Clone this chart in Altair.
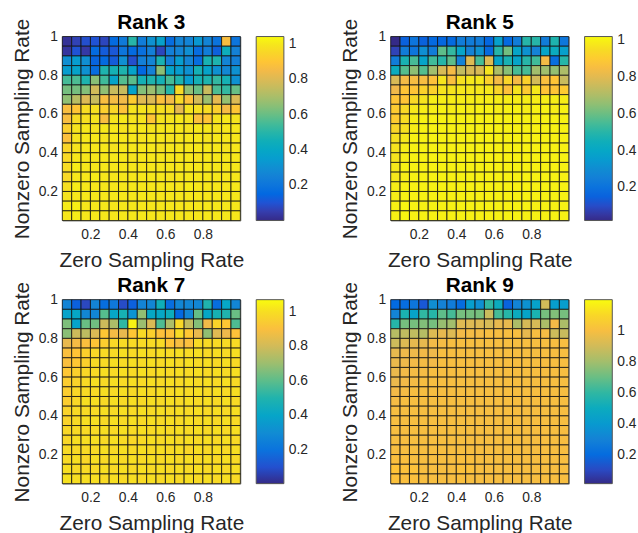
import altair as alt
import pandas as pd

# cell edges (pcolor style grid: 19 x 19 cells between 20 sample rates)
X_EDGES = [0.05, 0.10, 0.15, 0.20, 0.25, 0.30, 0.35, 0.40, 0.45, 0.50,
           0.55, 0.60, 0.65, 0.70, 0.75, 0.80, 0.85, 0.90, 0.95, 1.00]
Y_EDGES = [0.05, 0.10, 0.15, 0.20, 0.25, 0.30, 0.35, 0.40, 0.45, 0.50,
           0.55, 0.60, 0.65, 0.70, 0.75, 0.80, 0.85, 0.90, 0.95, 1.00]

TITLES = ["Rank 3", "Rank 5", "Rank 7", "Rank 9"]

# rows listed from top (nonzero rate 0.95-1.0) to bottom (0.05-0.10)
RANK3 = [
    [0.02, 0.06, 0.09, 0.10, 0.07, 0.16, 0.22, 0.50, 0.23, 0.31, 0.37, 0.17, 0.26, 0.26, 0.33, 0.26, 0.19, 0.87, 0.20],
    [0.03, 0.10, 0.04, 0.16, 0.12, 0.11, 0.20, 0.16, 0.18, 0.24, 0.07, 0.24, 0.26, 0.30, 0.17, 0.23, 0.13, 0.44, 0.25],
    [0.30, 0.35, 0.30, 0.14, 0.16, 0.12, 0.30, 0.09, 0.24, 0.26, 0.47, 0.24, 0.35, 0.26, 0.17, 0.47, 0.48, 0.26, 0.24],
    [0.35, 0.38, 0.31, 0.17, 0.48, 0.46, 0.48, 0.38, 0.15, 0.25, 0.65, 0.38, 0.35, 0.31, 0.46, 0.38, 0.31, 0.27, 0.31],
    [0.55, 0.56, 0.48, 0.65, 0.54, 0.38, 0.57, 0.58, 0.46, 0.48, 0.46, 0.55, 0.48, 0.35, 0.46, 0.48, 0.52, 0.46, 0.31],
    [0.62, 0.62, 0.64, 0.78, 0.66, 0.76, 0.76, 0.38, 0.64, 0.68, 0.62, 0.50, 0.96, 0.66, 0.60, 0.76, 0.56, 0.52, 0.60],
    [0.66, 0.73, 0.80, 0.76, 0.87, 0.86, 0.85, 0.92, 0.81, 0.80, 0.88, 0.85, 0.96, 0.89, 0.78, 0.68, 0.82, 0.67, 0.80],
    [0.87, 0.90, 0.97, 0.98, 0.93, 0.95, 0.89, 0.99, 0.99, 0.98, 0.98, 0.97, 0.82, 0.99, 0.98, 0.97, 0.93, 0.86, 0.90],
    [0.87, 0.97, 0.98, 0.99, 0.87, 0.99, 1.00, 0.99, 0.99, 0.90, 0.99, 0.99, 1.00, 0.99, 0.88, 0.90, 0.99, 1.00, 0.99],
    [0.93, 0.99, 1.00, 0.99, 1.00, 1.00, 0.99, 1.00, 1.00, 0.99, 1.00, 1.00, 1.00, 0.99, 1.00, 1.00, 0.99, 1.00, 1.00],
    [0.88, 0.99, 1.00, 1.00, 0.99, 1.00, 1.00, 1.00, 0.99, 1.00, 1.00, 0.99, 1.00, 1.00, 1.00, 0.99, 1.00, 1.00, 1.00],
    [0.95, 0.99, 1.00, 1.00, 1.00, 0.99, 1.00, 1.00, 1.00, 1.00, 0.99, 1.00, 1.00, 1.00, 1.00, 1.00, 1.00, 0.99, 1.00],
    [0.96, 1.00, 1.00, 1.00, 1.00, 1.00, 1.00, 0.99, 1.00, 1.00, 1.00, 1.00, 1.00, 1.00, 0.99, 1.00, 1.00, 1.00, 1.00],
    [0.97, 1.01, 1.00, 1.00, 1.00, 1.00, 1.00, 1.00, 1.00, 1.00, 1.00, 1.00, 1.00, 1.00, 1.00, 1.00, 1.00, 1.00, 1.00],
    [0.96, 1.00, 1.00, 1.01, 1.00, 1.00, 1.00, 1.00, 1.00, 1.00, 1.00, 0.99, 1.00, 1.00, 1.00, 1.00, 1.00, 1.00, 1.00],
    [0.98, 1.01, 1.00, 1.00, 1.00, 1.00, 1.00, 1.00, 1.00, 1.00, 1.00, 1.00, 1.00, 1.01, 1.00, 1.00, 1.00, 1.00, 1.00],
    [0.99, 1.00, 1.00, 1.00, 1.00, 1.00, 1.00, 1.00, 1.00, 1.00, 1.00, 1.00, 1.00, 1.00, 1.00, 1.00, 1.00, 1.00, 1.00],
    [1.01, 1.02, 1.00, 1.00, 1.00, 1.00, 1.00, 1.00, 1.00, 1.00, 1.00, 1.00, 1.00, 1.00, 1.00, 1.00, 1.00, 1.00, 1.00],
    [1.00, 1.01, 1.00, 1.00, 1.00, 1.00, 1.00, 1.00, 1.00, 1.00, 1.00, 1.00, 1.00, 1.00, 1.00, 1.00, 1.00, 1.00, 1.00],
]

RANK5 = [
    [0.02, 0.15, 0.21, 0.15, 0.17, 0.16, 0.17, 0.24, 0.24, 0.24, 0.16, 0.37, 0.17, 0.24, 0.50, 0.50, 0.24, 0.48, 0.22],
    [0.08, 0.24, 0.21, 0.31, 0.24, 0.58, 0.52, 0.39, 0.26, 0.32, 0.17, 0.50, 0.61, 0.39, 0.32, 0.26, 0.39, 0.43, 0.37],
    [0.24, 0.47, 0.55, 0.39, 0.54, 0.50, 0.58, 0.26, 0.79, 0.55, 0.79, 0.39, 0.47, 0.39, 0.50, 0.54, 0.84, 0.19, 0.50],
    [0.43, 0.57, 0.65, 0.57, 0.68, 0.78, 0.84, 0.74, 0.78, 0.78, 0.97, 0.70, 0.64, 0.55, 0.55, 0.68, 0.68, 0.66, 0.70],
    [0.78, 0.84, 0.85, 0.85, 0.87, 0.97, 0.86, 0.96, 0.98, 0.98, 0.92, 0.84, 0.93, 0.84, 0.92, 0.77, 0.86, 0.88, 0.75],
    [0.83, 0.88, 0.88, 0.92, 0.92, 0.97, 0.97, 0.98, 0.98, 0.98, 0.98, 0.93, 0.87, 0.97, 0.90, 0.98, 0.88, 0.88, 0.90],
    [0.88, 0.88, 0.94, 0.97, 0.99, 0.99, 0.99, 0.99, 0.99, 0.99, 0.99, 0.99, 0.99, 0.99, 0.99, 0.99, 0.99, 0.99, 0.99],
    [0.90, 0.94, 0.98, 0.99, 0.99, 1.00, 0.99, 1.00, 0.99, 1.00, 1.00, 0.99, 1.00, 1.00, 0.99, 1.00, 1.00, 0.99, 1.00],
    [0.90, 0.95, 0.99, 1.00, 1.00, 1.00, 1.00, 1.00, 1.00, 1.00, 1.00, 1.00, 1.00, 1.00, 1.00, 1.00, 1.00, 1.00, 1.00],
    [0.93, 0.96, 0.99, 1.00, 1.00, 1.00, 1.00, 1.00, 1.00, 1.00, 1.00, 1.00, 1.00, 1.00, 1.00, 1.00, 1.00, 1.00, 1.00],
    [0.96, 0.98, 1.00, 1.00, 1.00, 1.00, 1.00, 1.00, 1.00, 1.00, 1.00, 1.00, 1.00, 1.00, 1.00, 1.00, 1.00, 1.00, 1.00],
    [0.97, 0.99, 1.00, 1.00, 1.00, 1.00, 1.00, 1.00, 1.00, 1.00, 1.00, 1.00, 1.00, 1.00, 1.00, 1.00, 1.00, 1.00, 1.00],
    [0.97, 0.99, 1.00, 1.00, 1.00, 1.00, 1.00, 1.00, 1.00, 1.00, 1.00, 1.00, 1.00, 1.00, 1.00, 1.00, 1.00, 1.00, 1.00],
    [0.98, 1.00, 1.00, 1.00, 1.00, 1.00, 1.00, 1.00, 1.00, 1.00, 1.00, 1.00, 1.00, 1.00, 1.00, 1.00, 1.00, 1.00, 1.00],
    [0.98, 0.99, 1.00, 1.00, 1.00, 1.00, 1.00, 1.00, 1.00, 1.00, 1.00, 1.00, 1.00, 1.00, 1.00, 1.00, 1.00, 1.00, 1.00],
    [0.99, 1.00, 1.00, 1.00, 1.00, 1.00, 1.00, 1.00, 1.00, 1.00, 1.00, 1.00, 1.00, 1.00, 1.00, 1.00, 1.00, 1.00, 1.00],
    [0.99, 1.00, 1.00, 1.00, 1.00, 1.00, 1.00, 1.00, 1.00, 1.00, 1.00, 1.00, 1.00, 1.00, 1.00, 1.00, 1.00, 1.00, 1.00],
    [1.00, 1.01, 1.00, 1.00, 1.00, 1.00, 1.00, 1.00, 1.00, 1.00, 1.00, 1.00, 1.00, 1.00, 1.00, 1.00, 1.00, 1.00, 1.00],
    [1.00, 1.01, 1.00, 1.00, 1.00, 1.00, 1.00, 1.00, 1.00, 1.00, 1.00, 1.00, 1.00, 1.00, 1.00, 1.00, 1.00, 1.00, 1.00],
]

RANK7 = [
    [0.27, 0.14, 0.08, 0.27, 0.18, 0.22, 0.09, 0.14, 0.27, 0.28, 0.46, 0.18, 0.28, 0.28, 0.28, 0.50, 0.18, 0.41, 0.28],
    [0.39, 0.41, 0.28, 0.28, 0.59, 0.41, 0.48, 0.33, 0.68, 0.41, 0.41, 0.45, 0.16, 0.28, 0.61, 0.41, 0.48, 0.50, 0.62],
    [0.65, 0.39, 0.62, 0.63, 0.79, 0.73, 0.53, 1.05, 0.70, 0.82, 0.58, 0.73, 0.98, 0.77, 0.66, 0.87, 0.97, 0.93, 0.58],
    [0.67, 0.79, 0.76, 0.82, 0.93, 0.88, 0.85, 0.93, 0.99, 0.96, 0.91, 0.91, 0.99, 0.93, 0.85, 0.68, 0.83, 0.86, 0.91],
    [0.85, 0.88, 0.90, 0.92, 0.95, 0.98, 0.99, 0.99, 0.99, 0.99, 0.99, 0.92, 0.89, 0.90, 0.99, 0.99, 0.99, 0.99, 0.99],
    [0.90, 0.92, 0.96, 0.98, 0.99, 0.99, 1.00, 0.99, 1.00, 0.99, 1.00, 0.99, 1.00, 0.99, 1.00, 0.99, 1.00, 0.99, 1.00],
    [0.90, 0.93, 0.96, 0.99, 0.99, 1.00, 0.99, 1.00, 0.99, 1.00, 0.99, 1.00, 0.99, 1.00, 0.99, 1.00, 0.99, 1.00, 0.99],
    [0.93, 0.96, 0.98, 0.99, 1.00, 0.99, 1.00, 0.99, 1.00, 0.99, 1.00, 0.99, 1.00, 0.99, 1.00, 0.99, 1.00, 0.99, 1.00],
    [0.95, 0.97, 0.99, 1.00, 0.99, 1.00, 0.99, 1.00, 0.99, 1.00, 0.99, 1.00, 0.99, 1.00, 0.99, 1.00, 0.99, 1.00, 0.99],
    [0.95, 0.98, 0.99, 0.99, 1.00, 0.99, 1.00, 0.99, 1.00, 0.99, 1.00, 0.99, 1.00, 0.99, 1.00, 0.99, 1.00, 0.99, 1.00],
    [0.95, 0.98, 1.00, 1.00, 0.99, 1.00, 0.99, 1.00, 0.99, 1.00, 0.99, 1.00, 0.99, 1.00, 0.99, 1.00, 0.99, 1.00, 0.99],
    [0.97, 0.99, 0.99, 0.99, 1.00, 0.99, 1.00, 0.99, 1.00, 0.99, 1.00, 0.99, 1.00, 0.99, 1.00, 0.99, 1.00, 0.99, 1.00],
    [0.97, 0.99, 1.00, 1.00, 0.99, 1.00, 0.99, 1.00, 0.99, 1.00, 0.99, 1.00, 0.99, 1.00, 0.99, 1.00, 0.99, 1.00, 0.99],
    [0.98, 0.99, 0.99, 0.99, 1.00, 0.99, 1.00, 0.99, 1.00, 0.99, 1.00, 0.99, 1.00, 0.99, 1.00, 0.99, 1.00, 0.99, 1.00],
    [0.98, 1.00, 1.00, 1.00, 0.99, 1.00, 0.99, 0.98, 0.99, 1.00, 0.99, 1.00, 0.99, 1.00, 0.99, 1.00, 0.99, 1.00, 0.99],
    [0.99, 0.99, 0.99, 0.99, 1.00, 0.99, 1.00, 0.99, 1.00, 0.99, 1.00, 0.99, 1.00, 0.98, 1.00, 0.99, 1.00, 0.99, 1.00],
    [0.99, 1.00, 0.98, 1.00, 0.99, 1.00, 0.99, 1.00, 0.99, 1.00, 0.99, 1.00, 0.99, 1.00, 0.99, 1.00, 0.99, 1.00, 0.99],
    [1.00, 0.99, 0.99, 0.99, 1.00, 0.99, 1.00, 0.99, 1.00, 0.99, 1.00, 0.99, 1.00, 0.99, 1.00, 0.99, 1.00, 0.99, 1.00],
    [1.01, 1.00, 1.00, 1.00, 0.99, 1.00, 0.99, 1.00, 0.99, 1.00, 0.99, 1.00, 0.99, 1.00, 0.99, 1.00, 0.99, 1.00, 0.99],
]

RANK9 = [
    [0.19, 0.21, 0.24, 0.14, 0.35, 0.30, 0.27, 0.20, 0.42, 0.36, 0.60, 0.50, 0.17, 0.31, 0.37, 0.44, 0.90, 0.42, 0.42],
    [0.31, 0.55, 0.45, 0.60, 0.58, 0.68, 0.64, 0.72, 0.72, 0.72, 0.88, 0.64, 0.58, 0.50, 0.45, 0.55, 0.72, 0.74, 0.72],
    [0.58, 0.72, 0.72, 0.74, 0.72, 0.78, 0.80, 0.93, 0.93, 0.93, 0.91, 0.95, 0.95, 0.82, 0.91, 0.91, 0.82, 0.98, 0.82],
    [0.84, 0.86, 0.86, 0.84, 0.93, 0.95, 0.93, 0.98, 0.99, 0.99, 1.00, 1.00, 1.00, 1.00, 0.95, 1.00, 0.99, 0.89, 0.88],
    [0.89, 0.93, 0.95, 0.95, 0.98, 0.99, 1.00, 1.00, 1.00, 1.00, 1.00, 1.00, 1.00, 1.00, 1.00, 1.00, 1.00, 1.00, 1.00],
    [0.95, 0.97, 0.97, 0.98, 0.97, 1.00, 1.00, 1.00, 1.00, 1.00, 1.00, 1.00, 1.00, 1.00, 1.00, 1.00, 1.00, 1.00, 1.00],
    [0.96, 0.97, 0.98, 0.99, 0.98, 1.00, 1.00, 1.00, 1.00, 1.00, 1.00, 1.00, 1.00, 1.00, 1.00, 1.00, 1.00, 1.00, 1.00],
    [0.96, 0.98, 0.99, 0.99, 1.00, 1.00, 1.00, 1.00, 1.00, 1.00, 1.00, 1.00, 1.00, 1.00, 1.00, 1.00, 1.00, 1.00, 1.00],
    [0.96, 0.98, 0.99, 1.00, 1.00, 1.00, 1.00, 1.00, 1.00, 1.00, 1.00, 1.00, 1.00, 1.00, 1.00, 1.00, 1.00, 1.00, 1.00],
    [0.98, 0.99, 1.00, 1.00, 1.00, 1.00, 1.00, 1.00, 1.00, 1.00, 1.00, 1.00, 1.00, 1.00, 1.00, 1.00, 1.00, 1.00, 1.00],
    [0.99, 1.00, 1.00, 1.00, 1.00, 1.00, 1.00, 1.00, 1.00, 1.00, 1.00, 1.00, 1.00, 1.00, 1.00, 1.00, 1.00, 1.00, 1.00],
    [1.00, 1.00, 1.00, 1.00, 1.00, 1.00, 1.00, 1.00, 1.00, 1.00, 1.00, 1.00, 1.00, 1.00, 1.00, 1.00, 1.00, 1.00, 1.00],
    [1.00, 1.00, 1.00, 1.00, 1.00, 1.00, 1.00, 1.00, 1.00, 1.00, 1.00, 1.00, 1.00, 1.00, 1.00, 1.00, 1.00, 1.00, 1.00],
    [1.00, 1.00, 1.00, 1.00, 1.00, 1.00, 1.00, 1.00, 1.00, 1.00, 1.00, 1.00, 1.00, 1.00, 1.00, 1.00, 1.00, 1.00, 1.00],
    [1.00, 1.00, 1.00, 1.00, 1.00, 1.00, 1.00, 1.00, 1.00, 1.00, 1.00, 1.00, 1.00, 1.00, 1.00, 1.00, 1.00, 1.00, 1.00],
    [1.00, 1.00, 1.00, 1.00, 1.00, 1.00, 1.00, 1.00, 1.00, 1.00, 1.00, 1.00, 1.00, 1.00, 1.00, 1.00, 1.00, 1.00, 1.00],
    [1.01, 1.01, 1.00, 1.00, 1.00, 1.00, 1.00, 1.01, 1.01, 1.00, 1.00, 1.00, 1.00, 1.00, 1.00, 1.00, 1.00, 1.00, 1.00],
    [1.03, 1.02, 1.02, 1.00, 1.00, 1.00, 1.00, 1.02, 1.02, 1.00, 1.00, 1.00, 1.00, 1.00, 1.00, 1.00, 1.00, 1.00, 1.00],
    [1.02, 1.01, 1.01, 1.00, 1.00, 1.00, 1.00, 1.01, 1.00, 1.00, 1.00, 1.00, 1.00, 1.00, 1.00, 1.00, 1.00, 1.00, 1.00],
]

# colour-bar limits of each panel
CLIMS = [[0.0, 1.043], [0.02, 1.02], [0.005, 1.07], [0.013, 1.20]]

# parula, every third entry of the 64-colour table (evenly spaced)
PARULA = ["#352a87", "#353dad", "#2053d4", "#0268e1", "#0d75dc", "#1481d6",
          "#108ed2", "#079ccf", "#06a7c6", "#0faeb9", "#25b5a9", "#42bb98",
          "#65be86", "#87bf77", "#a5be6b", "#c0bc60", "#d9ba56", "#f1b94a",
          "#ffc337", "#fad32a", "#f5e41d", "#f9fb0e"]

FONT = "Liberation Sans"
TXT = "#262626"


def panel_frame(rows):
    recs = []
    n = len(rows)
    for r, row in enumerate(rows):
        yi = n - 1 - r
        for c, v in enumerate(row):
            recs.append({"x": X_EDGES[c], "x2": X_EDGES[c + 1],
                         "y": Y_EDGES[yi], "y2": Y_EDGES[yi + 1], "v": v})
    return pd.DataFrame(recs)


def panel(rows, title, clim):
    df = panel_frame(rows)
    heat = alt.Chart(df).mark_rect(
        stroke="#111111", strokeWidth=0.9, strokeOpacity=0.9
    ).encode(
        x=alt.X("x:Q", title="Zero Sampling Rate",
                scale=alt.Scale(domain=[0.05, 1.0], nice=False, zero=False),
                axis=alt.Axis(values=[0.2, 0.4, 0.6, 0.8], format=".1~f",
                              grid=False, ticks=False, domain=False,
                              labelPadding=7, titlePadding=8,
                              labelFont=FONT, labelFontSize=14, labelColor=TXT,
                              titleFont=FONT, titleFontSize=21,
                              titleFontWeight="normal", titleColor=TXT)),
        x2="x2:Q",
        y=alt.Y("y:Q", title="Nonzero Sampling Rate",
                scale=alt.Scale(domain=[0.05, 1.0], nice=False, zero=False),
                axis=alt.Axis(values=[0.2, 0.4, 0.6, 0.8, 1.0], format=".1~f",
                              grid=False, ticks=False, domain=False,
                              labelPadding=5, titlePadding=6,
                              labelFont=FONT, labelFontSize=14, labelColor=TXT,
                              titleFont=FONT, titleFontSize=21,
                              titleFontWeight="normal", titleColor=TXT)),
        y2="y2:Q",
        color=alt.Color("v:Q", scale=alt.Scale(domain=clim, range=PARULA,
                                               interpolate="rgb", nice=False,
                                               zero=False),
                        legend=alt.Legend(title=None, values=[0.2, 0.4, 0.6, 0.8, 1.0],
                                          format=".1~f", gradientLength=186,
                                          gradientThickness=28, offset=16,
                                          padding=0, labelOverlap=False,
                                          labelFontSize=14, labelFont=FONT,
                                          labelColor=TXT, labelOffset=5,
                                          gradientStrokeColor="#555555",
                                          gradientStrokeWidth=1,
                                          direction="vertical", orient="right")),
    )
    head = alt.Chart(pd.DataFrame({"t": [title]})).mark_text(
        font=FONT, fontSize=21, fontWeight="bold", color="black",
        baseline="alphabetic", align="center"
    ).encode(text="t:N", x=alt.value(90), y=alt.value(-8))
    return alt.layer(heat, head).properties(width=180, height=186)


panels = [panel(d, t, c) for d, t, c in zip([RANK3, RANK5, RANK7, RANK9], TITLES, CLIMS)]

chart = alt.concat(*panels, columns=2, spacing={"row": 80, "column": 152},
                   bounds="flush").resolve_scale(
    color="independent", x="independent", y="independent"
).resolve_legend(color="independent").properties(
    padding={"left": 11, "top": 8, "right": 0, "bottom": 0},
    background="white"
).configure_view(stroke="#888888", strokeWidth=1)

chart.save("out.html", embed_options={"renderer": "svg", "actions": False})
